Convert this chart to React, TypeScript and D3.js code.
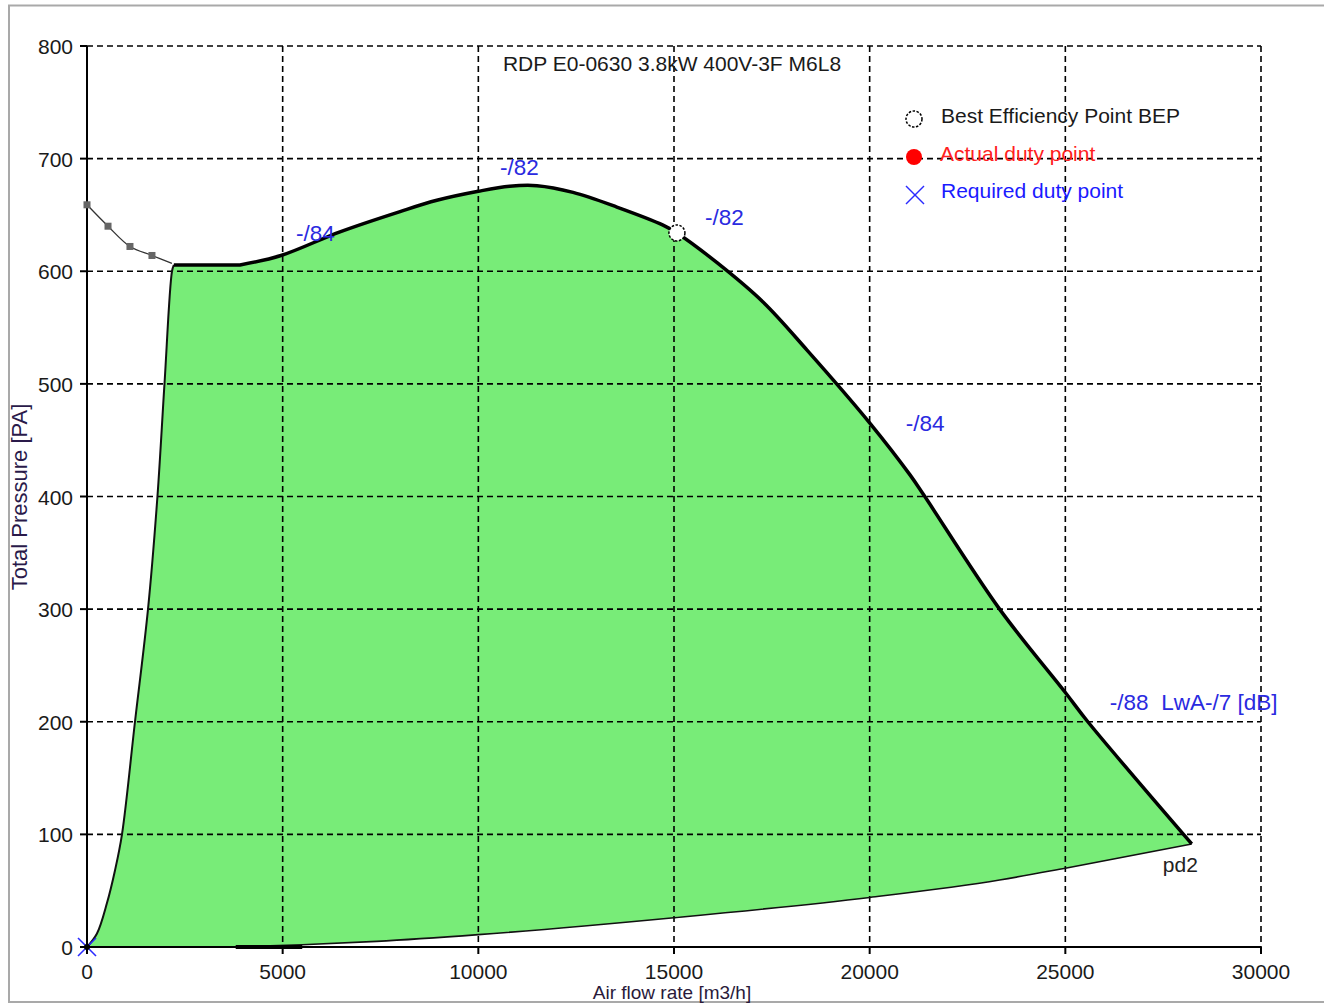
import React from "react";
import * as d3 from "d3";

// ---------- data ----------
const xTicks = [0, 5000, 10000, 15000, 20000, 25000, 30000];
const yTicks = [0, 100, 200, 300, 400, 500, 600, 700, 800];

// fan curve (upper boundary), [flow m3/h, pressure Pa]
const fanCurve: [number, number][] = [
  [3910, 605.6], [4957, 614], [6465, 635], [8000, 653], [8940, 663],
  [10000, 671], [10800, 675.5], [11500, 676], [12420, 670], [13540, 657],
  [14720, 641], [15075, 634], [16100, 607.6], [17274, 572.7], [18399, 530],
  [20009, 465], [21031, 419.2], [21414, 399.7], [23320, 300],
  [25000, 226], [25575, 200], [28230, 91.5],
];
// flat top at the left of the fan curve
const flatTop: [number, number][] = [[2220, 605.6], [3910, 605.6]];
// left boundary (min speed / stall line)
const leftCurve: [number, number][] = [
  [0, 0], [255, 12], [510, 39], [715, 68], [894, 100], [1226, 200],
  [1559, 300], [1800, 400], [1980, 500], [2172, 600], [2220, 605.6],
];
// lower boundary (system line to pd2)
const lowerCurve: [number, number][] = [
  [3800, 0], [5500, 2], [7400, 5], [10000, 11], [15000, 26],
  [20000, 44], [23320, 59.5], [25000, 70], [28230, 91.5],
];
// system curve with squares
const sysCurve: [number, number][] = [
  [0, 659], [537, 640], [1098, 622], [1660, 614], [2170, 607],
];
const sysMarkers: [number, number][] = [[0, 659], [537, 640], [1098, 622], [1660, 614]];

const bep: [number, number] = [15075, 634];
const requiredPoint: [number, number] = [0, 0];

const curveLabels = [
  { text: "-/84", flow: 5340, p: 627 },
  { text: "-/82", flow: 10552, p: 685.5 },
  { text: "-/82", flow: 15790, p: 641 },
  { text: "-/84", flow: 20925, p: 458 },
  { text: "-/88  LwA-/7 [dB]", flow: 26138, p: 210.5 },
];
const pd2Label = { text: "pd2", flow: 27492, p: 66.6 };

const title = "RDP E0-0630 3.8kW 400V-3F M6L8";
const legendItems = ["Best Efficiency Point BEP", "Actual duty point", "Required duty point"];
const xTitle = "Air flow rate [m3/h]";
const yTitle = "Total Pressure [PA]";

// ---------- layout ----------
const W = 1324, H = 1005;
const X0 = 87, X1 = 1261, Y0 = 947, Y1 = 46;
const FONT = "'Liberation Sans', Arial, sans-serif";

export default function App() {
  const x = d3.scaleLinear().domain([0, 30000]).range([X0, X1]);
  const y = d3.scaleLinear().domain([0, 800]).range([Y0, Y1]);

  const smooth = d3.line<[number, number]>().x(d => x(d[0])).y(d => y(d[1])).curve(d3.curveCatmullRom.alpha(0.5));
  const mono = d3.line<[number, number]>().x(d => x(d[0])).y(d => y(d[1])).curve(d3.curveMonotoneX);
  const straight = d3.line<[number, number]>().x(d => x(d[0])).y(d => y(d[1]));

  const leftD = smooth(leftCurve) || "";
  const flatD = straight(flatTop) || "";
  const fanD = smooth(fanCurve) || "";
  const lowerRev = [...lowerCurve].reverse();
  const lowerRevD = mono(lowerRev) || "";

  const fillD =
    leftD +
    flatD.replace(/^M/, "L") +
    fanD.replace(/^M/, "L") +
    lowerRevD.replace(/^M/, "L") +
    `L${x(0)},${y(0)}Z`;

  const gridDash = "6,4";
  const legX = 914;
  const legY = [119, 157, 195];

  return (
    <svg
      width={W}
      height={H}
      style={{ position: "absolute", left: 0, top: 0, background: "#fff" }}
      fontFamily={FONT}
    >
      {/* frame */}
      <rect x={9} y={5.5} width={1330} height={996.5} fill="#fff" stroke="#a9a9a9" strokeWidth={2} />

      {/* green region */}
      <path d={fillD} fill="#78ec78" stroke="none" />

      {/* grid */}
      {xTicks.filter(t => t > 0).map(t => (
        <line key={"gx" + t} x1={x(t)} x2={x(t)} y1={y(800)} y2={y(0)} stroke="#000" strokeWidth={1.6} strokeDasharray={gridDash} />
      ))}
      {yTicks.filter(t => t > 0).map(t => (
        <line key={"gy" + t} x1={x(0)} x2={x(30000)} y1={y(t)} y2={y(t)} stroke="#000" strokeWidth={1.6} strokeDasharray={gridDash} />
      ))}

      {/* axes */}
      <line x1={x(0)} x2={x(0)} y1={y(800)} y2={y(0)} stroke="#000" strokeWidth={2} />
      <line x1={x(0)} x2={x(30000)} y1={y(0)} y2={y(0)} stroke="#000" strokeWidth={2} />
      {yTicks.map(t => (
        <line key={"ty" + t} x1={x(0) - 7} x2={x(0)} y1={y(t)} y2={y(t)} stroke="#000" strokeWidth={2} />
      ))}
      {xTicks.map(t => (
        <line key={"tx" + t} x1={x(t)} x2={x(t)} y1={y(0)} y2={y(0) + 7} stroke="#000" strokeWidth={2} />
      ))}
      {yTicks.map(t => (
        <text key={"ly" + t} x={x(0) - 14} y={y(t) + 8} textAnchor="end" fontSize={21} fill="#1a1a1a">{t}</text>
      ))}
      {xTicks.map(t => (
        <text key={"lx" + t} x={x(t)} y={y(0) + 32} textAnchor="middle" fontSize={21} fill="#1a1a1a">{t}</text>
      ))}

      {/* boundary lines */}
      <path d={leftD} fill="none" stroke="#111" strokeWidth={2} />
      <path d={mono(lowerCurve) || ""} fill="none" stroke="#111" strokeWidth={1.6} />
      <line x1={x(lowerCurve[0][0])} x2={x(5500)} y1={y(0)} y2={y(0)} stroke="#000" strokeWidth={4} />
      <path d={flatD + fanD.replace(/^M/, "L")} fill="none" stroke="#000" strokeWidth={3.5} strokeLinejoin="round" />

      {/* system curve */}
      <path d={smooth(sysCurve) || ""} fill="none" stroke="#333" strokeWidth={1.3} />
      {sysMarkers.map((d, i) => (
        <rect key={"sm" + i} x={x(d[0]) - 3.5} y={y(d[1]) - 3.5} width={7} height={7} fill="#666" />
      ))}

      {/* BEP */}
      <circle cx={x(bep[0])} cy={y(bep[1])} r={8} fill="#fff" stroke="#000" strokeWidth={1.5} strokeDasharray="2.5,1.5" />

      {/* required point at origin */}
      <g transform={`translate(${x(requiredPoint[0])},${y(requiredPoint[1])})`}>
        <line x1={-9} y1={-9} x2={9} y2={9} stroke="#2b2bff" strokeWidth={1.6} />
        <line x1={-9} y1={9} x2={9} y2={-9} stroke="#2b2bff" strokeWidth={1.6} />
        <circle r={3} fill="#000" />
      </g>

      {/* curve labels */}
      {curveLabels.map((l, i) => (
        <text key={"cl" + i} x={x(l.flow)} y={y(l.p)} fontSize={22.5} fill="#2a2ae0" style={{ whiteSpace: "pre" }}>{l.text}</text>
      ))}
      <text x={x(pd2Label.flow)} y={y(pd2Label.p)} fontSize={21} fill="#222">{pd2Label.text}</text>

      {/* title */}
      <text x={672} y={71} textAnchor="middle" fontSize={21} fill="#1a1a1a">{title}</text>

      {/* legend */}
      <circle cx={legX} cy={legY[0]} r={8} fill="#fff" stroke="#000" strokeWidth={1.5} strokeDasharray="2.5,1.5" />
      <circle cx={legX} cy={legY[1]} r={8} fill="#ff0000" />
      <g transform={`translate(${legX + 1},${legY[2]})`}>
        <line x1={-9} y1={-9} x2={9} y2={9} stroke="#2b2bff" strokeWidth={1.5} />
        <line x1={-9} y1={9} x2={9} y2={-9} stroke="#2b2bff" strokeWidth={1.5} />
      </g>
      <text x={941} y={legY[0] + 4} fontSize={21} fill="#1a1a1a">{legendItems[0]}</text>
      <text x={940} y={legY[1] + 4} fontSize={21} fill="#ff2020">{legendItems[1]}</text>
      <text x={941} y={legY[2] + 3} fontSize={21} fill="#1a1aff">{legendItems[2]}</text>

      {/* axis titles */}
      <text x={672} y={999} textAnchor="middle" fontSize={19} fill="#2a1a3a">{xTitle}</text>
      <text transform={`translate(27,497) rotate(-90)`} textAnchor="middle" fontSize={22} fill="#2a1a4a">{yTitle}</text>
    </svg>
  );
}
